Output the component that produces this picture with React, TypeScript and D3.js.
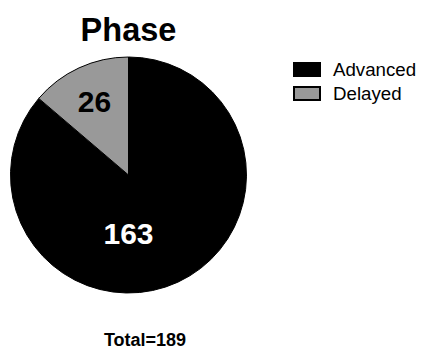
import React from "react";
import * as d3 from "d3";

const categories = ["Advanced", "Delayed"];
const values = [163, 26];
const colors = ["#000000", "#999999"];
const title = "Phase";
const totalLabel = "Total=" + d3.sum(values);

const W = 422;
const H = 349;
const FONT = "'Liberation Sans', Arial, Helvetica, sans-serif";

export default function App() {
  const cx = 128.5;
  const cy = 175;
  const r = 118;

  const pie = d3.pie<number>().sort(null).value((d) => d);
  const arcs = pie(values);
  const arcGen = d3.arc<d3.PieArcDatum<number>>().innerRadius(0).outerRadius(r);
  const labelArc = d3.arc<d3.PieArcDatum<number>>().innerRadius(r * 0.69).outerRadius(r * 0.69);

  return (
    <svg
      width={W}
      height={H}
      style={{ position: "absolute", left: 0, top: 0, background: "#fff" }}
      fontFamily={FONT}
    >
      <text x={cx} y={41} textAnchor="middle" fontSize={32.5} fontWeight="bold" fill="#000">
        {title}
      </text>
      <g transform={`translate(${cx},${cy})`}>
        {arcs.map((a, i) => (
          <path key={categories[i]} d={arcGen(a) || ""} fill={colors[i]} stroke="#000" strokeWidth={1} />
        ))}
        {arcs.map((a, i) => {
          // the large slice carries its label below the centre, the small one at its centroid
          const [lx, ly] = i === 0 ? [0, 58] : labelArc.centroid(a);
          return (
            <text
              key={"l" + categories[i]}
              x={lx}
              y={ly}
              dy="0.36em"
              textAnchor="middle"
              fontSize={30}
              fontWeight="bold"
              fill={i === 0 ? "#fff" : "#000"}
            >
              {values[i]}
            </text>
          );
        })}
      </g>
      <g transform="translate(293,62)">
        {categories.map((c, i) => (
          <g key={c} transform={`translate(0,${i * 24})`}>
            <rect
              x={i === 0 ? 0 : 1}
              y={i === 0 ? 0 : 1}
              width={i === 0 ? 28 : 26}
              height={i === 0 ? 15 : 13}
              fill={colors[i]}
              stroke="#000"
              strokeWidth={i === 0 ? 0 : 2}
            />
            <text x={40} y={14} fontSize={18.7} fill="#000">
              {c}
            </text>
          </g>
        ))}
      </g>
      <text x={145} y={346} textAnchor="middle" fontSize={18} fontWeight="bold" fill="#000">
        {totalLabel}
      </text>
    </svg>
  );
}
